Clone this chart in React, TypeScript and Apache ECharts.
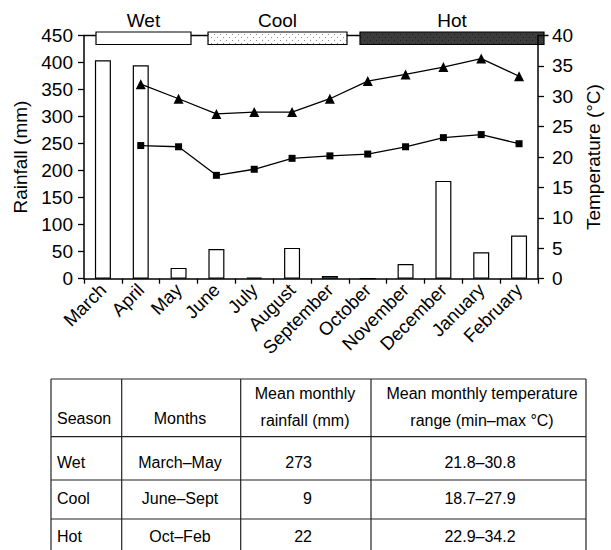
import React, { useEffect, useRef } from "react";
import * as echarts from "echarts";

const MONTHS = ["March", "April", "May", "June", "July", "August", "September", "October", "November", "December", "January", "February"];
const RAINFALL = [404, 395, 20, 55, 2, 57, 5, 0, 27, 181, 49, 80];
const TEMP_MAX = [null, 32.0, 29.6, 27.1, 27.4, 27.4, 29.6, 32.5, 33.6, 34.8, 36.2, 33.3];
const TEMP_MIN = [null, 21.9, 21.7, 17.0, 18.0, 19.8, 20.2, 20.5, 21.7, 23.2, 23.7, 22.2];
const SEASONS = ["Wet", "Cool", "Hot"];
const TABLE_HEADER = ["Season", "Months", "Mean monthly\nrainfall (mm)", "Mean monthly temperature\nrange (min\u2013max \u00b0C)"];
const TABLE_SEASON = ["Wet", "Cool", "Hot"];
const TABLE_MONTHS = ["March\u2013May", "June\u2013Sept", "Oct\u2013Feb"];
const TABLE_RAIN = ["273", "9", "22"];
const TABLE_TEMP = ["21.8\u201330.8", "18.7\u201327.9", "22.9\u201334.2"];

const FONT = "'Liberation Sans', Arial, Helvetica, sans-serif";

function dotPattern(bg: string, dot: string): string {
  const c = document.createElement("canvas");
  c.width = 6;
  c.height = 6;
  const ctx = c.getContext("2d")!;
  ctx.fillStyle = bg;
  ctx.fillRect(0, 0, 6, 6);
  ctx.fillStyle = dot;
  ctx.fillRect(1, 1, 1, 1);
  ctx.fillRect(4, 4, 1, 1);
  return c.toDataURL();
}

export default function App() {
  const ref = useRef<HTMLDivElement>(null);
  useEffect(() => {
    document.body.style.margin = "0";
    const chart = echarts.init(ref.current!, null, { renderer: "svg" });

    const seasonBoxes = [
      { x0: 96, x1: 191, fill: "#ffffff" as any },
      { x0: 208, x1: 347, fill: { image: dotPattern("#ffffff", "#8a8a8a"), repeat: "repeat" } as any },
      { x0: 360, x1: 544, fill: { image: dotPattern("#3c3c3c", "#1c1c1c"), repeat: "repeat" } as any },
    ];
    const graphic: any[] = [];
    graphic.push({ type: "line", shape: { x1: 84, y1: 35.5, x2: 548.5, y2: 35.5 }, style: { stroke: "#000", lineWidth: 1.3 } });
    seasonBoxes.forEach((b, i) => {
      graphic.push({
        type: "rect",
        shape: { x: b.x0, y: 32, width: b.x1 - b.x0, height: 12.5 },
        style: { fill: b.fill, stroke: "#000", lineWidth: 1.2 },
      });
      graphic.push({
        type: "text",
        x: (b.x0 + b.x1) / 2,
        y: 20,
        style: { text: SEASONS[i], fontSize: 19, fontFamily: FONT, fill: "#000", align: "center", verticalAlign: "middle" },
      });
    });

    const colX = [51, 121.7, 240.7, 371, 586];
    const rowY = [379, 436.7, 480, 519, 551];
    const lineStyle = { stroke: "#222", lineWidth: 1.2 };
    rowY.forEach((y) => graphic.push({ type: "line", shape: { x1: colX[0], y1: y, x2: colX[4], y2: y }, style: lineStyle }));
    colX.forEach((x) => graphic.push({ type: "line", shape: { x1: x, y1: rowY[0], x2: x, y2: 551 }, style: lineStyle }));
    const txt = (text: string, x: number, y: number, align: string, lh?: number) => ({
      type: "text",
      x,
      y,
      style: { text, fontSize: 16, fontFamily: FONT, fill: "#000", align, verticalAlign: "middle", lineHeight: lh || 20 },
    });
    graphic.push(txt(TABLE_HEADER[0], 57, 418, "left"));
    graphic.push(txt(TABLE_HEADER[1], 180, 418, "center"));
    graphic.push(txt(TABLE_HEADER[2], 305, 407, "center", 27));
    graphic.push(txt(TABLE_HEADER[3], 482, 407, "center", 27));
    const rowCenters = [462, 498.5, 536.5];
    rowCenters.forEach((y, i) => {
      graphic.push(txt(TABLE_SEASON[i], 57, y, "left"));
      graphic.push(txt(TABLE_MONTHS[i], 180, y, "center"));
      graphic.push(txt(TABLE_RAIN[i], 312, y, "right"));
      graphic.push(txt(TABLE_TEMP[i], 480, y, "center"));
    });

    const axisCommon = {
      axisLine: { show: true, lineStyle: { color: "#000", width: 1.5 } },
      axisTick: { show: true, inside: false, length: 6, lineStyle: { color: "#000", width: 1.3 } },
      splitLine: { show: false },
    };

    chart.setOption({
      animation: false,
      grid: { left: 84, right: 62.5, top: 35.5, bottom: 271.3 },
      xAxis: {
        type: "category",
        data: MONTHS,
        boundaryGap: true,
        ...axisCommon,
        axisTick: { show: true, interval: 0, length: 5, lineStyle: { color: "#000", width: 1.3 } },
        axisLabel: { interval: 0, rotate: 45, fontSize: 18.5, fontFamily: FONT, color: "#000", margin: 8 },
      },
      yAxis: [
        {
          type: "value",
          min: 0,
          max: 450,
          interval: 50,
          position: "left",
          ...axisCommon,
          axisLabel: { fontSize: 19, fontFamily: FONT, color: "#000", margin: 11 },
          name: "Rainfall (mm)",
          nameLocation: "middle",
          nameRotate: 90,
          nameGap: 52,
          nameTextStyle: { fontSize: 19, fontFamily: FONT, color: "#000" },
        },
        {
          type: "value",
          min: 0,
          max: 40,
          interval: 5,
          position: "right",
          ...axisCommon,
          axisLabel: { fontSize: 19, fontFamily: FONT, color: "#000", margin: 14 },
          name: "Temperature (\u00b0C)",
          nameLocation: "middle",
          nameRotate: 90,
          nameGap: 46,
          nameTextStyle: { fontSize: 19, fontFamily: FONT, color: "#000" },
        },
      ],
      series: [
        {
          type: "bar",
          data: RAINFALL,
          barWidth: 16,
          itemStyle: { color: "#fff", borderColor: "#000", borderWidth: 1.2 },
        },
        {
          type: "line",
          yAxisIndex: 1,
          data: TEMP_MAX,
          symbol: "triangle",
          symbolSize: 10,
          lineStyle: { color: "#000", width: 1.3 },
          itemStyle: { color: "#000" },
        },
        {
          type: "line",
          yAxisIndex: 1,
          data: TEMP_MIN,
          symbol: "rect",
          symbolSize: 7,
          lineStyle: { color: "#000", width: 1.3 },
          itemStyle: { color: "#000" },
        },
      ],
      graphic,
    });
    return () => chart.dispose();
  }, []);
  return <div ref={ref} style={{ width: 611, height: 550 }} />;
}
